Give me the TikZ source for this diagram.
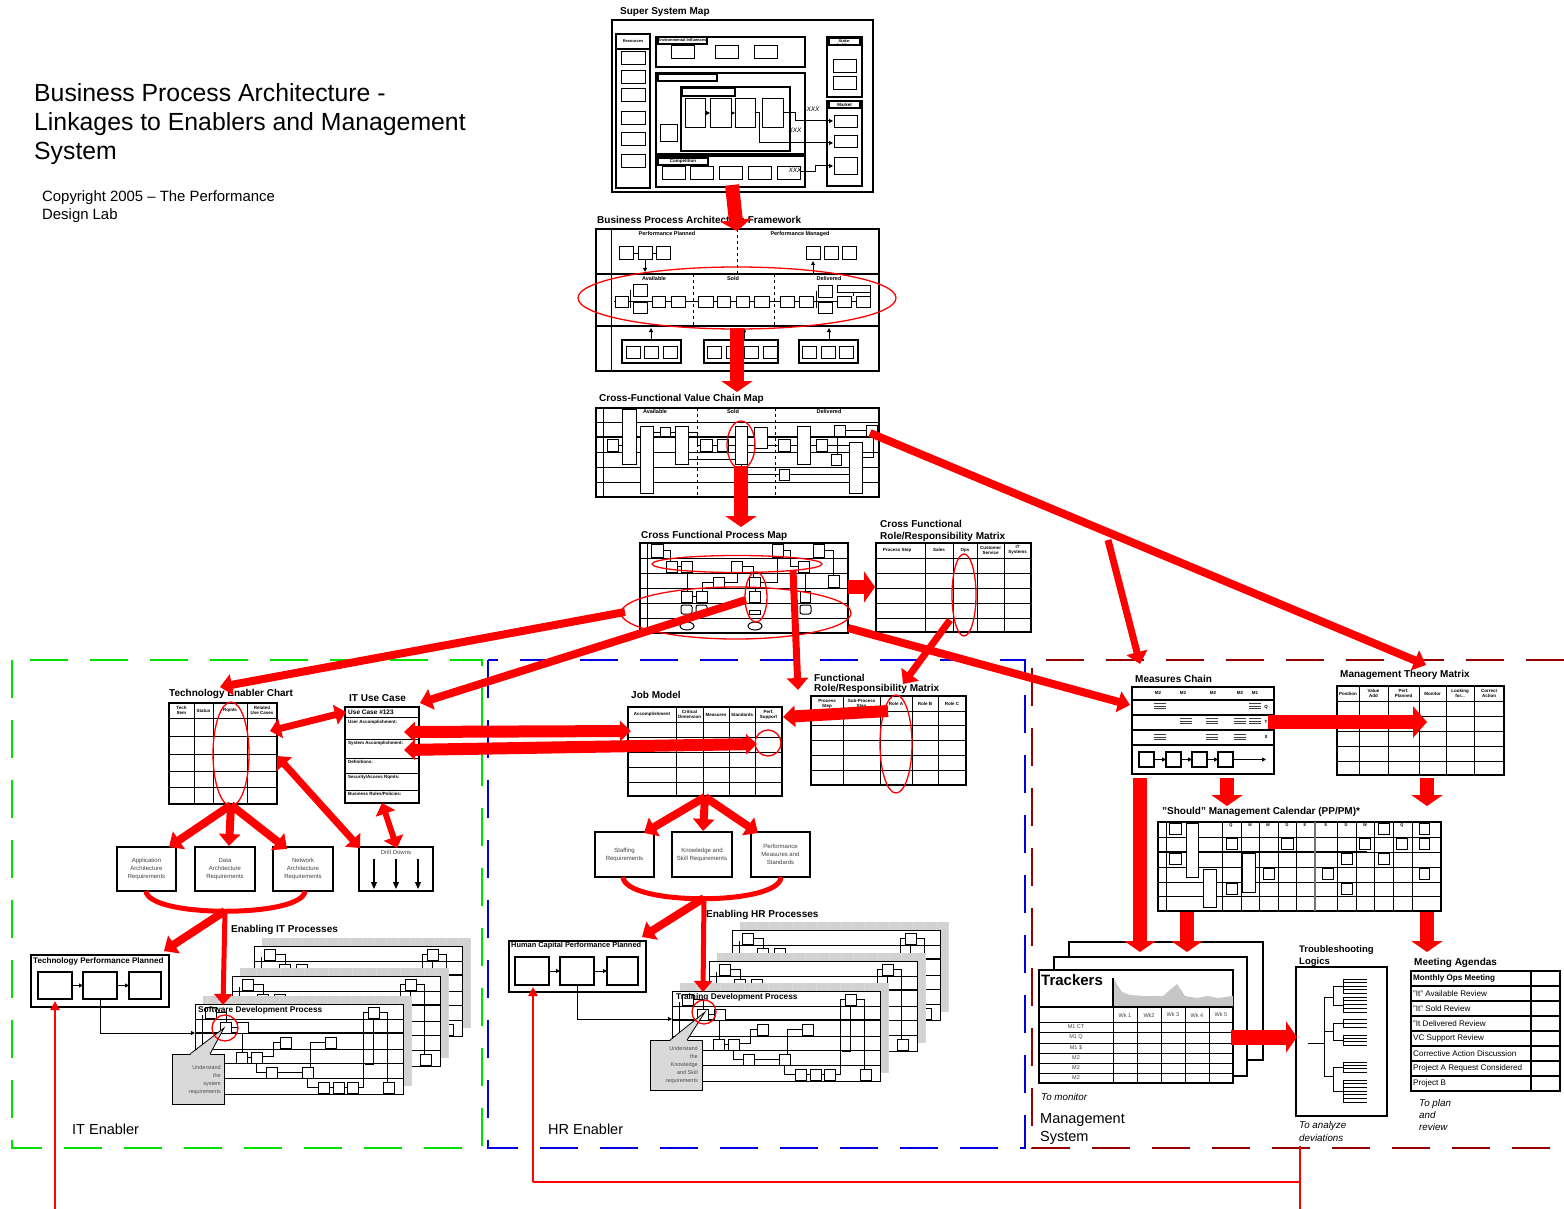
\documentclass[tikz,border=0pt]{standalone}
\usepackage{fontspec}
\setmainfont{Liberation Sans}
\usetikzlibrary{arrows.meta}
\definecolor{gE}{RGB}{0,225,0}
\definecolor{bE}{RGB}{0,0,225}
\definecolor{mE}{RGB}{150,0,0}
\definecolor{rE}{RGB}{255,0,0}
\tikzset{
 bk/.style={draw=black, line width=1pt},
 sbox/.style={draw=black, line width=1pt, fill=white},
 ttl/.style={anchor=west, inner sep=0pt, font=\fontsize{10}{12}\selectfont\bfseries},
 hd/.style={inner sep=0pt, align=center, font=\fontsize{4.5}{5}\selectfont\bfseries},
 rq/.style={inner sep=0pt, align=center, text=black!75, font=\fontsize{6}{8}\selectfont},
 rel/.style={draw=rE, line width=1.3pt},
 rline/.style={draw=rE, line width=#1, -{Triangle[length=12pt,width=21pt]}},
 rdbl/.style={draw=rE, line width=#1, {Triangle[length=11pt,width=20pt]}-{Triangle[length=11pt,width=20pt]}},
 fat/.style={draw=rE, line width=14pt, -{Triangle[length=11pt,width=31pt]}},
 bar/.style={draw=rE, line width=#1},
 sa/.style={-{Triangle[length=4pt,width=4pt]}},
 itx/.style={anchor=west, inner sep=0pt, font=\fontsize{9.8}{12.5}\selectfont\itshape, align=left},
 frame/.style={line width=2.6pt, dash pattern=on 38pt off 22pt},
}
\newcommand{\procsheet}[2]{%
\begin{scope}[shift={(#1,#2)}]
\fill[gray!35] (8,-8) rectangle (216,82);
\draw[white!70!gray, line width=0.5pt, xstep=12, ystep=7] (8,-8) grid (216,82);
\draw[bk, fill=white] (0,0) rectangle (208,90);
\draw[bk] (0,15) -- (208,15);
\draw[black, line width=2pt] (0,29) -- (208,29);
\foreach \yy in {45,59,74} {\draw[bk] (0,\yy) -- (208,\yy);}
\draw[bk] (7,11) -- (7,45);
\draw[bk] (21,8.5) -- (31,8.5) -- (31,18);
\draw[bk] (36,23.5) -- (42,23.5);
\draw[bk] (47,29) -- (47,48);
\draw[bk] (52,53.5) -- (56,53.5);
\draw[bk] (67,52) -- (78,52) -- (78,38.5) -- (85,38.5);
\draw[bk] (61,59) -- (61,68.5) -- (71,68.5);
\draw[bk] (82,68.5) -- (107,68.5);
\draw[bk] (115,63) -- (115,38.5) -- (130,38.5);
\draw[bk] (112,74) -- (112,83.5) -- (123,83.5);
\draw[bk] (134,83.5) -- (138,83.5);
\draw[bk] (149,83.5) -- (152,83.5);
\draw[bk] (163,83.5) -- (168,83.5) -- (168,8.5) -- (173,8.5);
\draw[bk] (184,8.5) -- (192,8.5) -- (192,78);
\draw[bk] (178,14) -- (178,60) -- (170,60);
\foreach \a/\b in {10/3,25/18,42/18,173/3,41/48,56/48,85/33,130/33,71/63,107/63,123/78,138/78,152/78,188/78} {\draw[sbox] (\a,\b) rectangle ++(11,11);}
\end{scope}}
\newcommand{\trip}[2]{\draw[black!75, line width=0.8pt] (#1-6,#2-2.5) -- ++(12,0) (#1-6,#2) -- ++(12,0) (#1-6,#2+2.5) -- ++(12,0);}
\newcommand{\comb}[3]{\draw[bk, line width=0.9pt] (1343,#1) -- (1343,#2); \foreach \k in {0,...,#3} {\draw[bk, line width=0.9pt] (1343,{#1+(#2-#1)*\k/#3}) -- (1367,{#1+(#2-#1)*\k/#3});}}
\begin{document}
\begin{tikzpicture}[x=1pt,y=-1pt]
\useasboundingbox (0,0) rectangle (1564,1209);
\fill[white] (0,0) rectangle (1564,1209);

% ---------- Title ----------
\node[anchor=west, inner sep=0pt, font=\fontsize{24.8}{29}\selectfont, align=left] (title) at (34,124.5) {Business Process Architecture -\\Linkages to Enablers and Management\\System};
\node[anchor=west, inner sep=0pt, font=\fontsize{14.9}{18}\selectfont, align=left] (copy) at (42,207) {Copyright 2005 – The Performance\\Design Lab};

% ---------- Super System Map ----------
\node[ttl] (tSSM) at (620,12) {Super System Map};
\draw[line width=1.3pt] (612,20) rectangle (873,192);
\draw[line width=1.5pt] (616,34) rectangle (650,188);
\draw[line width=1.2pt] (616,34) rectangle (650,49);
\node[hd, font=\fontsize{4}{5}\selectfont\bfseries] (nRes) at (633,41.5) {Resources};
\foreach \y in {52,71,89,112,133,155} {\draw[bk] (621,\y) rectangle ++(24,13);}
\draw[line width=1.5pt] (656,37) rectangle (805,67);
\draw[line width=1.2pt, fill=white] (658,37) rectangle (707,44);
\node[hd, font=\fontsize{4}{4}\selectfont\bfseries] (nEnv) at (682,40.5) {Environmental Influences};
\foreach \x in {671,715,754} {\draw[bk] (\x,46) rectangle ++(23,13);}
\draw[line width=1.5pt] (656,73) rectangle (805,154);
\draw[line width=1.2pt] (658,74) rectangle (717,81);
\draw[line width=1.5pt] (681,87) rectangle (790,151);
\draw[line width=1.2pt] (682,88) rectangle (735,96);
\foreach \a/\b in {685/705,710/731,735/755,762/783} {\draw[bk] (\a,99) rectangle (\b,128);}
\draw[bk,sa] (705,113) -- (710,113);
\draw[bk,sa] (731,113) -- (735,113);
\draw[bk] (660,125) rectangle (677,142);
\draw[line width=1.5pt] (656,156) rectangle (805,187);
\draw[line width=1.2pt] (658,158) rectangle (708,165);
\node[hd] (nComp) at (683,161.5) {Competition};
\foreach \x in {662,690,719,748,777} {\draw[bk] (\x,167) rectangle ++(23,13);}
\draw[line width=1.5pt] (827,37) rectangle (862,97);
\draw[line width=1.2pt] (829,38) rectangle (860,45);
\node[hd, font=\fontsize{4}{4.5}\selectfont\bfseries] (nStk) at (844.5,43) {Stake-\\holders};
\draw[bk] (833,60) rectangle (856,73);
\draw[bk] (833,77) rectangle (856,90);
\draw[line width=1.5pt] (827,101) rectangle (862,186);
\draw[line width=1.2pt] (829,101) rectangle (860,108);
\node[hd] (nMkt) at (844.5,104.5) {Market};
\draw[bk] (834,116) rectangle (857,128);
\draw[bk] (834,136) rectangle (857,148);
\draw[bk] (834,158) rectangle (857,175);
\draw[bk,sa] (783,113) -- (795,113) -- (795,121) -- (833,121);
\draw[bk,sa] (755,113) -- (759,113) -- (759,143) -- (833,143);
\draw[bk,sa] (800,172) -- (815,172) -- (815,166) -- (833,166);
\node[inner sep=0pt, font=\fontsize{6.5}{6.5}\selectfont\itshape] (x1) at (813,109) {XXX};
\node[inner sep=0pt, font=\fontsize{6.5}{6.5}\selectfont\itshape] (x2) at (795,130) {XXX};
\node[inner sep=0pt, font=\fontsize{6.5}{6.5}\selectfont\itshape] (x3) at (795,170) {XXX};

% ---------- BPA Framework ----------
\node[ttl] (tBPA) at (597,220) {Business Process Architecture Framework};
\draw[line width=1.2pt] (596,229) rectangle (879,371);
\draw[bk] (611,229) -- (611,371);
\draw[line width=1.2pt] (596,274) -- (879,274);
\draw[line width=1.2pt] (596,326) -- (879,326);
\draw[bk, dashed] (737,229) -- (737,274);
\draw[bk, dashed] (693,274) -- (693,326);
\draw[bk, dashed] (774,274) -- (774,326);
\node[hd, font=\fontsize{5.5}{6}\selectfont\bfseries] (pp) at (667,234) {Performance Planned};
\node[hd, font=\fontsize{5.5}{6}\selectfont\bfseries] (pm) at (800,234) {Performance Managed};
\node[hd, font=\fontsize{5.5}{6}\selectfont\bfseries] (bav) at (654,279) {Available};
\node[hd, font=\fontsize{5.5}{6}\selectfont\bfseries] (bso) at (733,279) {Sold};
\node[hd, font=\fontsize{5.5}{6}\selectfont\bfseries] (bde) at (829,279) {Delivered};
\draw[bk] (619,253.5) -- (670,253.5);
\foreach \a in {619,638,656,806,824,842} {\draw[sbox] (\a,247) rectangle ++(14,13);}
\draw[bk,sa] (645,260) -- (645,272);
\draw[bk,sa] (813,274) -- (813,261);
\draw[bk] (614,301) -- (870,301);
\draw[bk] (630,290) -- (630,308) (816,291) -- (816,308) (853,288) -- (853,296) (870,288) -- (870,296);
\foreach \a/\b/\c/\d in {615/296/628/307,633/284/647/296,633/302/647/313,652/296/665/307,671/296/685/307,698/296/713/307,717/296/730/307,736/296/749/307,754/296/769/307,780/296/794/307,799/296/813/307,818/285/832/297,818/302/832/313,837/285/870/292,837/296/851/307,856/296/870/307} {\draw[sbox] (\a,\b) rectangle (\c,\d);}
\foreach \a/\b in {622/681,704/778,799/858} {\draw[line width=1.2pt] (\a,340) rectangle (\b,363);}
\foreach \a in {626,644,663,707,726,744,763,802,821,839} {\draw[bk] (\a,346) rectangle ++(14,12);}
\draw[bk,sa] (651,340) -- (651,328);
\draw[bk,sa] (744,340) -- (744,328);
\draw[bk,sa] (829,340) -- (829,328);

% ---------- Value Chain Map ----------
\node[ttl] (tVCM) at (599,399) {Cross-Functional Value Chain Map};
\draw[line width=1.2pt] (596,408) rectangle (879,497);
\draw[bk] (603,408) -- (603,497);
\draw[bk] (596,422) -- (879,422);
\draw[black, line width=2pt] (596,437) -- (879,437);
\foreach \y in {452,467,482} {\draw[bk] (596,\y) -- (879,\y);}
\draw[bk, dashed] (697,408) -- (697,497);
\draw[bk, dashed] (775,408) -- (775,497);
\node[hd, font=\fontsize{5.5}{6}\selectfont\bfseries] (vav) at (655,411.5) {Available};
\node[hd, font=\fontsize{5.5}{6}\selectfont\bfseries] (vso) at (733,411.5) {Sold};
\node[hd, font=\fontsize{5.5}{6}\selectfont\bfseries] (vde) at (829,411.5) {Delivered};
\draw[bk] (617,445) -- (622,445) (653,432) -- (660,432) (669,432) -- (675,432);
\draw[bk] (688,432) -- (697,432) -- (697,445) -- (700,445);
\draw[bk] (711,445) -- (717,445) (728,445) -- (735,445) (747,445) -- (754,445);
\draw[bk] (767,445) -- (778,445) (790,445) -- (797,445) (810,445) -- (816,445);
\draw[bk] (845,430) -- (866,430) (837,436) -- (837,454) (827,445) -- (849,445);
\draw[bk] (862,457) -- (873,457) -- (873,436);
\draw[bk] (741,464) -- (741,474) -- (779,474) (789,474) -- (849,474);
\draw[bk] (688,459) -- (735,459);
\foreach \a/\b/\c/\d in {607/439/618/451,622/409/636/464,640/426/653/493,660/427/670/436,675/426/688/464,700/439/712/451,717/439/728/451,735/426/747/464,754/427/767/448,778/439/790/451,797/426/810/464,816/439/827/451,834/425/845/436,831/454/841/465,866/425/877/436,849/442/862/493,779/469/789/480} {\draw[sbox] (\a,\b) rectangle (\c,\d);}

% ---------- Cross Functional Process Map ----------
\node[ttl] (tCFPM) at (641,536) {Cross Functional Process Map};
\draw[line width=1.2pt] (640,543) rectangle (848,633);
\draw[bk] (647,543) -- (647,633);
\foreach \y in {558,573,588,603,618} {\draw[bk] (640,\y) -- (848,\y);}
\draw[bk] (663,550) -- (670,550) -- (670,561) (677,566) -- (681,566) (687,572) -- (687,591) (692,596) -- (696,596);
\draw[bk] (702,591) -- (702,582) -- (713,582) (724,582) -- (737,582) -- (737,572);
\draw[bk] (742,566) -- (753,566) -- (753,577) (755,587) -- (755,591);
\draw[bk] (783,550) -- (790,550) -- (790,566) -- (798,566);
\draw[bk] (760,582) -- (777,582) -- (777,557);
\draw[bk] (824,550) -- (833,550) -- (833,575) (805,572) -- (805,591);
\foreach \a/\b/\c/\d in {651/544/663/557,666/561/677/572,681/561/692/572,731/561/742/572,772/544/783/557,813/544/824/557,798/561/809/572,713/577/724/587,749/577/760/587,828/575/839/587,681/591/692/602,696/591/707/602,749/591/760/602,800/591/810/602} {\draw[sbox] (\a,\b) rectangle (\c,\d);}
\foreach \a in {681,696,800} {\draw[sbox, rounded corners=2pt] (\a,605) rectangle ++(11,9);}
\draw[sbox] (749,610) rectangle (760,614);
\draw[bk] (687,626) ellipse [x radius=7, y radius=4];
\draw[bk] (755,626) ellipse [x radius=7, y radius=4];

% ---------- Cross Functional Role Matrix ----------
\node[ttl] (tCFR1) at (880,524) {Cross Functional};
\node[ttl] (tCFR2) at (880,537) {Role/Responsibility Matrix};
\draw[line width=1.2pt] (876,543) rectangle (1031,632);
\foreach \x in {925,953,977,1004} {\draw[bk] (\x,543) -- (\x,632);}
\foreach \y in {558,573,588,603,618} {\draw[bk] (876,\y) -- (1031,\y);}
\node[hd] at (897,550) {Process Step};
\node[hd] at (939,550) {Sales};
\node[hd] at (965,550) {Ops};
\node[hd] at (990.5,550) {Customer\\Service};
\node[hd] at (1017.5,550) {IT\\Systems};

% ---------- Frames ----------
\draw[gE, frame] (12,660) rectangle (482,1148);
\draw[bE, frame] (488,660) rectangle (1025,1148);
\draw[mE, frame] (1564,660) -- (1032,660) -- (1032,1148) -- (1564,1148);
\node[anchor=west, inner sep=0pt, font=\fontsize{14.5}{18}\selectfont] (lIT) at (72,1129) {IT Enabler};
\node[anchor=west, inner sep=0pt, font=\fontsize{14.5}{18}\selectfont] (lHR) at (548,1129) {HR Enabler};
\node[anchor=west, inner sep=0pt, font=\fontsize{14.5}{18}\selectfont, align=left] (lMS) at (1040,1129) {Management\\System};

% ---------- IT Enabler ----------
\node[ttl] (tTEC) at (169,694) {Technology Enabler Chart};
\draw[line width=1.2pt] (169,703) rectangle (277,804);
\foreach \x in {194,213,247} {\draw[bk] (\x,703) -- (\x,804);}
\foreach \y in {718,736,754,771,787} {\draw[bk] (169,\y) -- (277,\y);}
\node[hd] at (181.5,710.5) {Tech\\Item};
\node[hd] at (203.5,710.5) {Status};
\node[hd] at (230,710.5) {Rqmts};
\node[hd] at (262,710.5) {Related\\Use Cases};

\node[ttl] (tUC) at (349,698) {IT Use Case};
\draw[line width=1.2pt] (345,707) rectangle (419,803);
\foreach \y in {717,739,758,773,790} {\draw[bk] (345,\y) -- (419,\y);}
\node[anchor=west, inner sep=0pt, font=\fontsize{6.5}{7}\selectfont\bfseries] at (348,712) {Use Case \#123};
\node[anchor=west, hd] at (348,722) {User Accomplishment:};
\node[anchor=west, hd] at (348,743) {System Accomplishment:};
\node[anchor=west, hd] at (348,762) {Definitions:};
\node[anchor=west, hd] at (348,777) {Security/Access Rqmts:};
\node[anchor=west, hd] at (348,794) {Business Rules/Policies:};

\draw[line width=1.2pt] (359,847) rectangle (433,891);
\node[rq] (dd) at (396,852) {Drill Downs};
\foreach \x in {374,396,418} {\draw[black, line width=1.2pt, -{Triangle[length=7pt,width=6pt]}] (\x,859) -- (\x,889);}

\draw[line width=1.2pt] (117,847) rectangle (176,891);
\node[rq] (rApp) at (146.5,869) {Application\\Architecture\\Requirements};
\draw[line width=1.2pt] (195,847) rectangle (255,891);
\node[rq] (rDat) at (225,869) {Data\\Architecture\\Requirements};
\draw[line width=1.2pt] (273,847) rectangle (333,891);
\node[rq] (rNet) at (303,869) {Network\\Architecture\\Requirements};

\node[ttl] (tEIT) at (231,930) {Enabling IT Processes};
\draw[line width=1.2pt] (31,955) rectangle (169,1007);
\node[anchor=west, inner sep=0pt, font=\fontsize{8.1}{9}\selectfont\bfseries] (tTPP) at (33,961) {Technology Performance Planned};
\draw[line width=1.2pt] (38,972) rectangle (72,999);
\draw[line width=1.2pt] (83,972) rectangle (117,999);
\draw[line width=1.2pt] (129,972) rectangle (161,999);
\draw[bk,sa] (72,985.5) -- (83,985.5);
\draw[bk,sa] (117,985.5) -- (129,985.5);
\draw[bk,sa] (100,999) -- (100,1033) -- (195,1033);

\procsheet{254}{946}
\procsheet{232}{976}
\procsheet{195}{1004}
\node[anchor=west, inner sep=0pt, font=\fontsize{8.3}{9}\selectfont\bfseries] (tSDP) at (198,1010) {Software Development Process};
\draw[black, line width=0.8pt, fill=gray!30] (172,1054) rectangle (224,1104);
\fill[gray!30] (190,1055) -- (224,1028) -- (210,1055) -- cycle;
\draw[black, line width=0.8pt] (190,1054) -- (224,1028) -- (210,1054);
\node[anchor=east, inner sep=0pt, align=right, text=black!70, font=\fontsize{5.5}{8}\selectfont] (cIT) at (221,1080) {Understand\\the\\system\\requirements};

% ---------- HR Enabler ----------
\node[ttl] (tJM) at (631,695) {Job Model};
\draw[line width=1.2pt] (628,707) rectangle (782,796);
\foreach \x in {676,703,729,755} {\draw[bk] (\x,707) -- (\x,796);}
\foreach \y in {722,737,752,767,782} {\draw[bk] (628,\y) -- (782,\y);}
\node[hd] at (652,714.5) {Accomplishment};
\node[hd] at (689.5,714.5) {Critical\\Dimension};
\node[hd] at (716,714.5) {Measures};
\node[hd] at (742,714.5) {Standards};
\node[hd] at (768.5,714.5) {Perf.\\Support};

\node[ttl] (tFR1) at (814,678) {Functional};
\node[ttl] (tFR2) at (814,689) {Role/Responsibility Matrix};
\draw[line width=1.2pt] (811,696) rectangle (966,785);
\foreach \x in {843,880,912,938} {\draw[bk] (\x,696) -- (\x,785);}
\foreach \y in {711,725,740,755,770} {\draw[bk] (811,\y) -- (966,\y);}
\node[hd] at (827,703.5) {Process\\Step};
\node[hd] at (861.5,703.5) {Sub-Process\\Step};
\node[hd] at (896,703.5) {Role A};
\node[hd] at (925,703.5) {Role B};
\node[hd] at (952,703.5) {Role C};

\draw[line width=1.2pt] (595,832) rectangle (654,877);
\node[rq] (rSt) at (624.5,854.5) {Staffing\\Requirements};
\draw[line width=1.2pt] (672,832) rectangle (732,877);
\node[rq] (rKn) at (702,854.5) {Knowledge and\\Skill Requirements};
\draw[line width=1.2pt] (751,832) rectangle (810,877);
\node[rq] (rPf) at (780.5,854.5) {Performance\\Measures and\\Standards};

\node[ttl] (tEHR) at (706,915) {Enabling HR Processes};
\draw[line width=1.2pt] (509,941) rectangle (646,992);
\node[anchor=west, inner sep=0pt, font=\fontsize{7.4}{8}\selectfont\bfseries] (tHCP) at (511,946) {Human Capital Performance Planned};
\draw[line width=1.2pt] (515,957) rectangle (549,985);
\draw[line width=1.2pt] (560,957) rectangle (594,985);
\draw[line width=1.2pt] (607,957) rectangle (638,985);
\draw[bk,sa] (549,971) -- (560,971);
\draw[bk,sa] (594,971) -- (607,971);
\draw[bk,sa] (577,985) -- (577,1019) -- (672,1019);

\procsheet{732}{930}
\procsheet{709}{961}
\procsheet{672}{991}
\node[anchor=west, inner sep=0pt, font=\fontsize{8.3}{9}\selectfont\bfseries] (tTDP) at (676,997) {Training Development Process};
\draw[black, line width=0.8pt, fill=gray!30] (650,1040) rectangle (702,1090);
\fill[gray!30] (670,1041) -- (705,1012) -- (687,1041) -- cycle;
\draw[black, line width=0.8pt] (670,1040) -- (705,1012) -- (687,1040);
\node[anchor=east, inner sep=0pt, align=right, text=black!70, font=\fontsize{5.5}{8}\selectfont] (cHR) at (698,1065) {Understand\\the\\Knowledge\\and Skill\\requirements};

% ---------- Management System ----------
\node[ttl] (tMC) at (1135,679) {Measures Chain};
\draw[line width=1.2pt] (1132,687) rectangle (1274,774);
\foreach \y in {700,715,730,745} {\draw[line width=1.2pt] (1132,\y) -- (1274,\y);}
\foreach \x/\t in {1158/M2,1183/M2,1213/M2,1240/M2,1255/M1} {\node[hd] at (\x,692.5) {\t};}
\node[hd] at (1266,707.5) {Q};
\node[hd] at (1266,722) {T};
\node[hd] at (1266,737) {\$};
\trip{1160}{706}\trip{1255}{706}
\trip{1186}{721}\trip{1212}{721}\trip{1240}{721}\trip{1255}{721}
\trip{1160}{737}\trip{1212}{737}\trip{1240}{737}
\foreach \a in {1139,1166,1192,1218} {\draw[line width=1.2pt] (\a,752) rectangle ++(15,15);}
\draw[bk,sa] (1154,759.5) -- (1166,759.5);
\draw[bk,sa] (1181,759.5) -- (1192,759.5);
\draw[bk,sa] (1207,759.5) -- (1218,759.5);
\draw[bk,sa] (1233,759.5) -- (1266,759.5);

\node[ttl] (tMTM) at (1340,675) {Management Theory Matrix};
\draw[line width=1.2pt] (1337,686) rectangle (1504,775);
\foreach \x in {1359,1388,1419,1446,1474} {\draw[bk] (\x,686) -- (\x,775);}
\foreach \y in {701,716,731,746,761} {\draw[bk] (1337,\y) -- (1504,\y);}
\node[hd] at (1348,693.5) {Position};
\node[hd] at (1373.5,693.5) {Value\\Add};
\node[hd] at (1403.5,693.5) {Perf.\\Planned};
\node[hd] at (1432.5,693.5) {Monitor};
\node[hd] at (1460,693.5) {Looking\\for...};
\node[hd] at (1489,693.5) {Correct\\Action};

\node[ttl] (tCal) at (1162,812) {"Should" Management Calendar (PP/PM)*};
\draw[line width=1.2pt] (1158,822) rectangle (1441,911);
\foreach \y in {837,867,882,896} {\draw[bk] (1158,\y) -- (1441,\y);}
\draw[black, line width=2pt] (1158,852) -- (1367,852);
\draw[bk] (1367,852) -- (1441,852);
\foreach \x in {1166,1222,1241,1259,1278,1296,1337,1356,1374,1393,1412} {\draw[bk] (\x,822) -- (\x,911);}
\draw[black!55, line width=2.5pt] (1315,822) -- (1315,911);
\foreach \x/\t in {1189/A,1231/Q,1250/M,1268/W,1287/D,1305/E,1326/E,1346/D,1365/W,1384/M,1402/Q,1425/A} {\node[hd, font=\fontsize{4}{4}\selectfont\bfseries] at (\x,825.5) {\t};}
\foreach \a/\b/\c/\d in {1186/823/1198/877,1203/869/1216/907,1242/853/1255/892,1169/823/1181/834,1226/838/1237/849,1281/838/1293/849,1169/853/1181/864,1263/868/1274/879,1226/883/1237/894,1378/823/1389/834,1419/823/1429/834,1359/838/1370/849,1396/838/1407/849,1419/838/1429/849,1341/853/1352/864,1378/853/1389/864,1322/868/1333/879,1419/868/1429/879,1341/883/1352/894} {\draw[sbox] (\a,\b) rectangle (\c,\d);}

% Trackers
\draw[line width=1.2pt, fill=white] (1069,942) rectangle (1263,1060);
\draw[line width=1.2pt, fill=white] (1054,957) rectangle (1247,1076);
\draw[line width=1.2pt, fill=white] (1039,970) rectangle (1233,1083);
\fill[gray!45] (1113,978) -- (1122,992) -- (1130,995) -- (1145,996) -- (1163,996) -- (1177,984) -- (1185,996) -- (1197,998) -- (1208,996) -- (1218,998) -- (1233,996) -- (1233,1007) -- (1113,1007) -- cycle;
\draw[black, line width=2pt] (1113,978) -- (1113,1007);
\draw[bk] (1113,1007) -- (1113,1083);
\draw[line width=1.2pt] (1039,1007) -- (1233,1007);
\foreach \x in {1137,1161,1185,1209} {\draw[bk] (\x,1007) -- (\x,1083);}
\foreach \y in {1022,1032,1043,1053,1063,1073} {\draw[bk] (1039,\y) -- (1233,\y);}
\node[anchor=west, inner sep=0pt, font=\fontsize{15}{16}\selectfont\bfseries] (tTr) at (1041,980) {Trackers};
\foreach \x/\t in {1125/Wk 1,1149/Wk2,1173/Wk 3,1197/Wk 4,1221/Wk 5} {\node[rq, font=\fontsize{5.5}{6}\selectfont] at (\x,1015) {\t};}
\foreach \y/\t in {1027/M1 CT,1037.5/M1 Q,1048/M1 \$,1058/M2,1068/M2,1078/M2} {\node[rq, font=\fontsize{5.5}{6}\selectfont] at (1076,\y) {\t};}
\node[itx] (mon) at (1041,1097) {To monitor};

% Troubleshooting
\node[ttl, align=left, font=\fontsize{9.5}{12}\selectfont\bfseries] (tTL) at (1299,956) {Troubleshooting\\Logics};
\draw[line width=1.2pt] (1296,967) rectangle (1387,1116);
\draw[bk] (1308,1043) -- (1324,1043);
\draw[bk] (1324,997) -- (1324,1076);
\draw[bk] (1324,997) -- (1333,997) (1324,1031) -- (1333,1031) (1324,1076) -- (1333,1076);
\draw[bk] (1333,986) -- (1333,1005) (1333,1023) -- (1333,1040) (1333,1067) -- (1333,1091);
\draw[bk] (1333,986) -- (1343,986) (1333,1005) -- (1343,1005) (1333,1023) -- (1343,1023) (1333,1040) -- (1343,1040) (1333,1067) -- (1343,1067) (1333,1091) -- (1343,1091);
\comb{979}{993}{4}
\comb{997}{1012}{4}
\comb{1019}{1027}{2}
\comb{1035}{1045}{3}
\comb{1062}{1072}{3}
\comb{1080}{1102}{6}
\node[itx, font=\fontsize{9.8}{13}\selectfont\itshape] (ana) at (1299,1131) {To analyze\\deviations};

% Meeting agendas
\node[ttl] (tMA) at (1414,963) {Meeting Agendas};
\draw[line width=1.2pt] (1411,971) rectangle (1560,1091);
\draw[line width=1.2pt] (1531,971) -- (1531,1091);
\foreach \y in {986,1001,1016,1031,1046,1061,1076} {\draw[line width=1.2pt] (1411,\y) -- (1560,\y);}
\node[anchor=west, inner sep=0pt, font=\fontsize{8.1}{9}\selectfont\bfseries] at (1413,978.5) {Monthly Ops Meeting};
\foreach \y/\t in {993.5/"It" Available Review,1008.5/"It" Sold Review,1023.5/"It Delivered Review,1038.5/VC Support Review,1053.5/Corrective Action Discussion,1068.5/Project A Request Considered,1083.5/Project B} {\node[anchor=west, inner sep=0pt, font=\fontsize{8.1}{9}\selectfont] at (1413,\y) {\t};}
\node[itx, font=\fontsize{9.8}{12}\selectfont\itshape] (pl) at (1419,1115) {To plan\\and\\review};

% ---------- Red ellipses ----------
\draw[rel] (737,298) ellipse [x radius=159, y radius=31];
\draw[rel] (741,445) ellipse [x radius=14, y radius=24];
\draw[rel] (737,564) ellipse [x radius=85, y radius=8.5];
\draw[rel] (756,597) ellipse [x radius=11, y radius=25];
\draw[rel] (736,613) ellipse [x radius=115, y radius=26];
\draw[rel] (964,595) ellipse [x radius=12, y radius=41];
\draw[rel] (231,754) ellipse [x radius=18, y radius=52];
\draw[rel] (896,744) ellipse [x radius=16, y radius=49];
\draw[rel] (768,743) circle [radius=13];
\draw[rel] (225,1028) circle [radius=13];
\draw[rel] (704,1012) circle [radius=12];

% ---------- Red connectors ----------
\coordinate (aSSM) at (732,185); \coordinate (aBPA) at (737,231);
\draw[fat] (aSSM) -- (aBPA);
\coordinate (aBPA2) at (737,328); \coordinate (aVCM) at (737,392);
\draw[fat] (aBPA2) -- (aVCM);
\coordinate (aVCM2) at (741,466); \coordinate (aCFPM) at (741,527);
\draw[fat] (aVCM2) -- (aCFPM);
\coordinate (aCF2) at (848,587); \coordinate (aCFR) at (875,587);
\draw[fat] (aCF2) -- (aCFR);
\coordinate (lAs) at (625,612); \coordinate (lAe) at (220,687);
\draw[rline=8pt] (lAs) -- (lAe);
\coordinate (lBs) at (746,600); \coordinate (lBe) at (420,703);
\draw[rline=8pt] (lBs) -- (lBe);
\coordinate (lCs) at (793,570); \coordinate (lCe) at (798,690);
\draw[rline=7pt] (lCs) -- (lCe);
\coordinate (lDs) at (848,628); \coordinate (lDe) at (1130,705);
\draw[rline=8pt] (lDs) -- (lDe);
\coordinate (lEs) at (950,620); \coordinate (lEe) at (903,684);
\draw[rline=7pt] (lEs) -- (lEe);
\coordinate (lFs) at (870,433); \coordinate (lFe) at (1426,665);
\draw[rline=8pt] (lFs) -- (lFe);
\coordinate (lGs) at (1108,540); \coordinate (lGe) at (1140,664);
\draw[rline=7pt] (lGs) -- (lGe);
\draw[rdbl=7pt] (270,731) -- (346,712);
\draw[rdbl=12pt] (404,732) -- (631,731);
\draw[rdbl=12pt] (404,750) -- (757,744);
\draw[rline=12pt] (888,711) -- (783,717);
\draw[rdbl=7pt] (277,756) -- (360,848);
\draw[rdbl=6pt] (382,803) -- (397,848);
\draw[rline=8pt] (231,805) -- (169,847);
\draw[rline=8pt] (231,805) -- (229,846);
\draw[rline=8pt] (231,805) -- (287,849);
\draw[bar=5pt] (146,891) .. controls (148,918) and (303,918) .. (305,891);
\draw[draw=rE, line width=5pt, -{Triangle[length=11pt,width=18pt]}] (225,911) -- (223,1005);
\draw[rline=8pt] (225,911) -- (164,951);
\draw[rline=8pt] (705,797) -- (644,833);
\draw[rline=8pt] (705,797) -- (703,831);
\draw[rline=8pt] (705,797) -- (758,833);
\draw[bar=5pt] (623,877) .. controls (625,906) and (780,906) .. (781,877);
\draw[draw=rE, line width=5pt, -{Triangle[length=11pt,width=18pt]}] (704,898) -- (703,992);
\draw[rline=8pt] (704,898) -- (642,937);
\draw[draw=rE, line width=14pt, -{Triangle[length=14pt,width=31pt]}] (1268,722) -- (1427,722);
\draw[fat] (1227,778) -- (1227,806);
\draw[fat] (1427,778) -- (1427,806);
\draw[fat] (1140,778) -- (1140,952);
\draw[fat] (1187,912) -- (1187,952);
\draw[fat] (1427,912) -- (1427,952);
\draw[draw=rE, line width=15pt, -{Triangle[length=11pt,width=31pt]}] (1231,1037) -- (1297,1037);
\draw[draw=rE, line width=2.5pt, -{Triangle[length=9pt,width=9pt]}] (55,1209) -- (55,1001);
\draw[draw=rE, line width=2.5pt, -{Triangle[length=9pt,width=9pt]}] (533,1182) -- (533,987);
\draw[draw=rE, line width=2.5pt] (533,1182) -- (1300,1182);
\draw[draw=rE, line width=2.5pt] (1300,1146) -- (1300,1209);
\end{tikzpicture}
\end{document}
